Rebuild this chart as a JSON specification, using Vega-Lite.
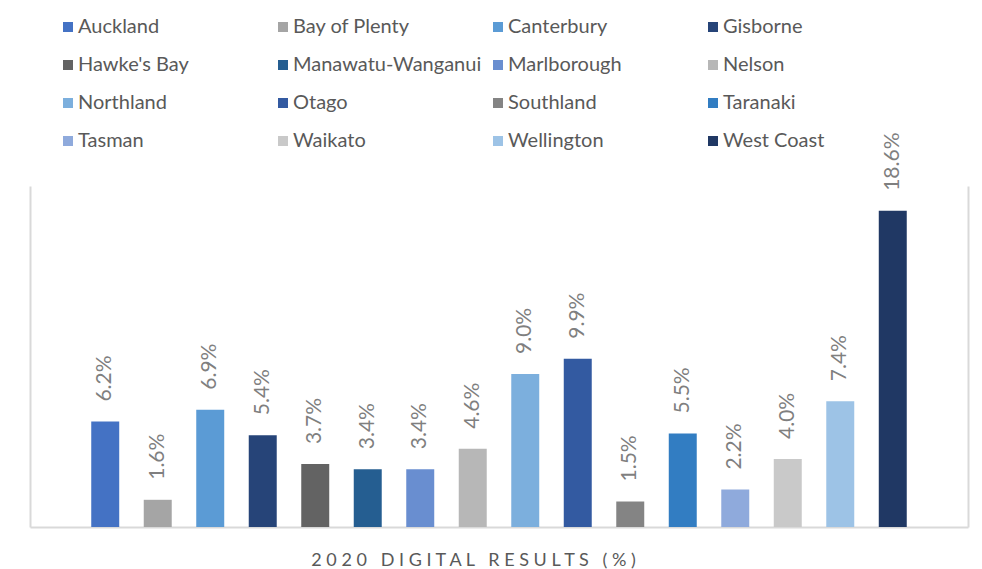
{
  "$schema": "https://vega.github.io/schema/vega-lite/v6.json",
  "width": 938,
  "height": 341,
  "autosize": {"type": "none"},
  "padding": {"left": 30, "top": 186, "right": 14, "bottom": 42},
  "background": "white",
  "config": {
    "view": {"stroke": null},
    "font": "Lato"
  },
  "data": {
    "values": [
      {"Region": "Auckland", "Value": 0.062},
      {"Region": "Bay of Plenty", "Value": 0.016},
      {"Region": "Canterbury", "Value": 0.069},
      {"Region": "Gisborne", "Value": 0.054},
      {"Region": "Hawke's Bay", "Value": 0.037},
      {"Region": "Manawatu-Wanganui", "Value": 0.034},
      {"Region": "Marlborough", "Value": 0.034},
      {"Region": "Nelson", "Value": 0.046},
      {"Region": "Northland", "Value": 0.090},
      {"Region": "Otago", "Value": 0.099},
      {"Region": "Southland", "Value": 0.015},
      {"Region": "Taranaki", "Value": 0.055},
      {"Region": "Tasman", "Value": 0.022},
      {"Region": "Waikato", "Value": 0.040},
      {"Region": "Wellington", "Value": 0.074},
      {"Region": "West Coast", "Value": 0.186}
    ]
  },
  "encoding": {
    "x": {
      "field": "Region",
      "type": "nominal",
      "sort": null,
      "scale": {"paddingInner": 0, "paddingOuter": 0.933},
      "axis": {
        "labels": false,
        "ticks": false,
        "domainColor": "#d9d9d9",
        "domainWidth": 2,
        "title": "2 0 2 0 \u00a0 D I G I T A L \u00a0 R E S U L T S \u00a0 ( % )",
        "titleFont": "Lato",
        "titleFontSize": 18,
        "titleFontWeight": "normal",
        "titleColor": "#595959",
        "titleX": 443,
        "titleY": 38,
        "titleBaseline": "alphabetic",
        "titleAlign": "center"
      }
    },
    "y": {
      "field": "Value",
      "type": "quantitative",
      "scale": {"domain": [0, 0.2006], "nice": false, "zero": true}
    }
  },
  "layer": [
    {
      "mark": {"type": "bar", "width": {"band": 0.533}},
      "encoding": {
        "y": {
          "field": "Value",
          "type": "quantitative",
          "scale": {"domain": [0, 0.2006], "nice": false},
          "axis": {
            "orient": "left",
            "labels": false,
            "ticks": false,
            "grid": false,
            "title": null,
            "domainColor": "#d9d9d9",
            "domainWidth": 2
          }
        },
        "color": {
          "field": "Region",
          "type": "nominal",
          "sort": null,
          "scale": {
            "domain": ["Auckland", "Bay of Plenty", "Canterbury", "Gisborne", "Hawke's Bay", "Manawatu-Wanganui", "Marlborough", "Nelson", "Northland", "Otago", "Southland", "Taranaki", "Tasman", "Waikato", "Wellington", "West Coast"],
            "range": ["#4472c4", "#a5a5a5", "#5b9bd5", "#264478", "#636363", "#255e91", "#698ed0", "#b7b7b7", "#7cafdd", "#335aa1", "#848484", "#327dc2", "#8faadc", "#c9c9c9", "#9dc3e6", "#203864"]
          },
          "legend": {
            "orient": "none",
            "legendX": 28,
            "legendY": -169,
            "columns": 4,
            "direction": "horizontal",
            "gridAlign": "all",
            "columnPadding": 6,
            "rowPadding": 18,
            "padding": 0,
            "title": null,
            "symbolType": "square",
            "symbolSize": 100,
            "symbolStrokeWidth": 0,
            "labelFont": "Lato",
            "labelFontSize": 20,
            "labelColor": "#595959",
            "labelOffset": 0,
            "labelLimit": 300
          }
        }
      }
    },
    {
      "mark": {
        "type": "text",
        "angle": 270,
        "align": "left",
        "baseline": "middle",
        "yOffset": -20,
        "font": "Lato",
        "fontSize": 21,
        "color": "#7f7f7f"
      },
      "encoding": {
        "y": {
          "field": "Value",
          "type": "quantitative",
          "scale": {"domain": [0, 0.2006], "nice": false},
          "axis": {
            "orient": "right",
            "labels": false,
            "ticks": false,
            "grid": false,
            "title": null,
            "domainColor": "#d9d9d9",
            "domainWidth": 2
          }
        },
        "text": {"field": "Value", "type": "quantitative", "format": ".1%"}
      }
    }
  ],
  "resolve": {"axis": {"y": "independent"}}
}
